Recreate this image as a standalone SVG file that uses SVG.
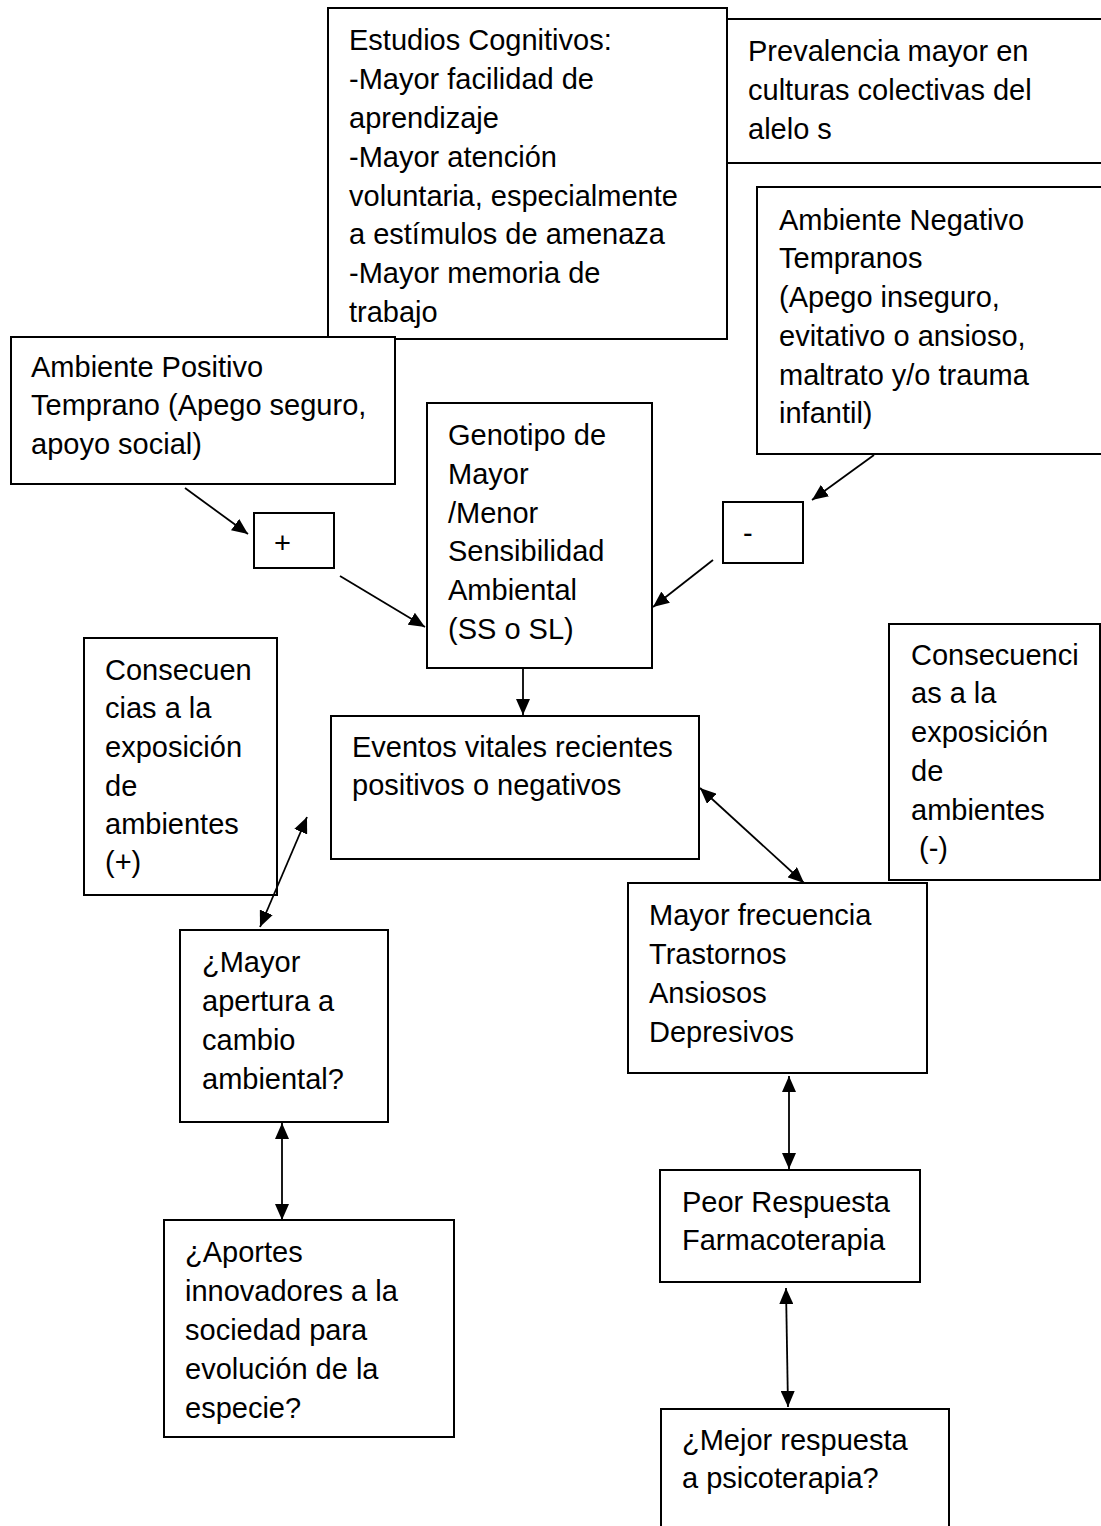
<svg xmlns="http://www.w3.org/2000/svg" width="1101" height="1526" viewBox="0 0 1101 1526">
<style>
.box{fill:#fff;stroke:#000;stroke-width:2}
.t{font-family:"Liberation Sans",Arial,sans-serif;font-size:29px;fill:#000}
.c{stroke:#000;stroke-width:1.8;fill:none;marker-end:url(#ah)}
.d{marker-start:url(#ah)}
</style>
<defs>
<marker id="ah" markerUnits="userSpaceOnUse" markerWidth="17" markerHeight="14" refX="16" refY="7" orient="auto-start-reverse"><path d="M0,0 L16,7 L0,14 z" fill="#000"/></marker>
</defs>
<rect width="1101" height="1526" fill="#fff"/>
<g id="prevalencia">
<rect class="box" x="727" y="19" width="390" height="144"/>
<text class="t"><tspan x="748" y="61">Prevalencia mayor en</tspan><tspan x="748" y="100">culturas colectivas del</tspan><tspan x="748" y="139">alelo s</tspan></text>
</g>
<g id="estudios">
<rect class="box" x="328" y="8" width="399" height="331"/>
<text class="t"><tspan x="349" y="50">Estudios Cognitivos:</tspan><tspan x="349" y="89">-Mayor facilidad de</tspan><tspan x="349" y="128">aprendizaje</tspan><tspan x="349" y="167">-Mayor atención</tspan><tspan x="349" y="206">voluntaria, especialmente</tspan><tspan x="349" y="244">a estímulos de amenaza</tspan><tspan x="349" y="283">-Mayor memoria de</tspan><tspan x="349" y="322">trabajo</tspan></text>
</g>
<g id="ambiente-negativo">
<rect class="box" x="757" y="187" width="360" height="267"/>
<text class="t"><tspan x="779" y="230">Ambiente Negativo</tspan><tspan x="779" y="268">Tempranos</tspan><tspan x="779" y="307">(Apego inseguro,</tspan><tspan x="779" y="346">evitativo o ansioso,</tspan><tspan x="779" y="385">maltrato y/o trauma</tspan><tspan x="779" y="423">infantil)</tspan></text>
</g>
<g id="ambiente-positivo">
<rect class="box" x="11" y="337" width="384" height="147"/>
<text class="t"><tspan x="31" y="377">Ambiente Positivo</tspan><tspan x="31" y="415">Temprano (Apego seguro,</tspan><tspan x="31" y="454">apoyo social)</tspan></text>
</g>
<g id="mas">
<rect class="box" x="254" y="513" width="80" height="55"/>
<text class="t" x="274" y="553">+</text>
</g>
<g id="menos">
<rect class="box" x="723" y="502" width="80" height="61"/>
<text class="t" x="743" y="543">-</text>
</g>
<g id="genotipo">
<rect class="box" x="427" y="403" width="225" height="265"/>
<text class="t"><tspan x="448" y="445">Genotipo de</tspan><tspan x="448" y="484">Mayor</tspan><tspan x="448" y="523">/Menor</tspan><tspan x="448" y="561">Sensibilidad</tspan><tspan x="448" y="600">Ambiental</tspan><tspan x="448" y="639">(SS o SL)</tspan></text>
</g>
<g id="consecuencias-pos">
<rect class="box" x="84" y="638" width="193" height="257"/>
<text class="t"><tspan x="105" y="680">Consecuen</tspan><tspan x="105" y="718">cias a la</tspan><tspan x="105" y="757">exposición</tspan><tspan x="105" y="796">de</tspan><tspan x="105" y="834">ambientes</tspan><tspan x="105" y="872">(+)</tspan></text>
</g>
<g id="eventos">
<rect class="box" x="331" y="716" width="368" height="143"/>
<text class="t"><tspan x="352" y="757">Eventos vitales recientes</tspan><tspan x="352" y="795">positivos o negativos</tspan></text>
</g>
<g id="consecuencias-neg">
<rect class="box" x="889" y="624" width="211" height="256"/>
<text class="t" xml:space="preserve"><tspan x="911" y="665">Consecuenci</tspan><tspan x="911" y="703">as a la</tspan><tspan x="911" y="742">exposición</tspan><tspan x="911" y="781">de</tspan><tspan x="911" y="820">ambientes</tspan><tspan x="911" y="858"> (-)</tspan></text>
</g>
<g id="mayor-apertura">
<rect class="box" x="180" y="930" width="208" height="192"/>
<text class="t"><tspan x="202" y="972">¿Mayor</tspan><tspan x="202" y="1011">apertura a</tspan><tspan x="202" y="1050">cambio</tspan><tspan x="202" y="1089">ambiental?</tspan></text>
</g>
<g id="aportes">
<rect class="box" x="164" y="1220" width="290" height="217"/>
<text class="t"><tspan x="185" y="1262">¿Aportes</tspan><tspan x="185" y="1301">innovadores a la</tspan><tspan x="185" y="1340">sociedad para</tspan><tspan x="185" y="1379">evolución de la</tspan><tspan x="185" y="1418">especie?</tspan></text>
</g>
<g id="mayor-frecuencia">
<rect class="box" x="628" y="883" width="299" height="190"/>
<text class="t"><tspan x="649" y="925">Mayor frecuencia</tspan><tspan x="649" y="964">Trastornos</tspan><tspan x="649" y="1003">Ansiosos</tspan><tspan x="649" y="1042">Depresivos</tspan></text>
</g>
<g id="peor-respuesta">
<rect class="box" x="660" y="1170" width="260" height="112"/>
<text class="t"><tspan x="682" y="1212">Peor Respuesta</tspan><tspan x="682" y="1250">Farmacoterapia</tspan></text>
</g>
<g id="mejor-respuesta">
<rect class="box" x="661" y="1409" width="288" height="130"/>
<text class="t"><tspan x="682" y="1450">¿Mejor respuesta</tspan><tspan x="682" y="1488">a psicoterapia?</tspan></text>
</g>
<g id="connectors">
<line class="c" x1="185" y1="488" x2="248" y2="534"/>
<line class="c" x1="340" y1="576" x2="425" y2="627"/>
<line class="c" x1="874" y1="455" x2="812" y2="500"/>
<line class="c" x1="713" y1="560" x2="653" y2="607"/>
<line class="c" x1="523" y1="668" x2="523" y2="715"/>
<line class="c d" x1="307" y1="817" x2="260" y2="927"/>
<line class="c d" x1="700" y1="788" x2="804" y2="883"/>
<line class="c d" x1="282" y1="1123" x2="282" y2="1220"/>
<line class="c d" x1="789" y1="1076" x2="789" y2="1169"/>
<line class="c d" x1="786" y1="1288" x2="788" y2="1407"/>
</g>
</svg>
